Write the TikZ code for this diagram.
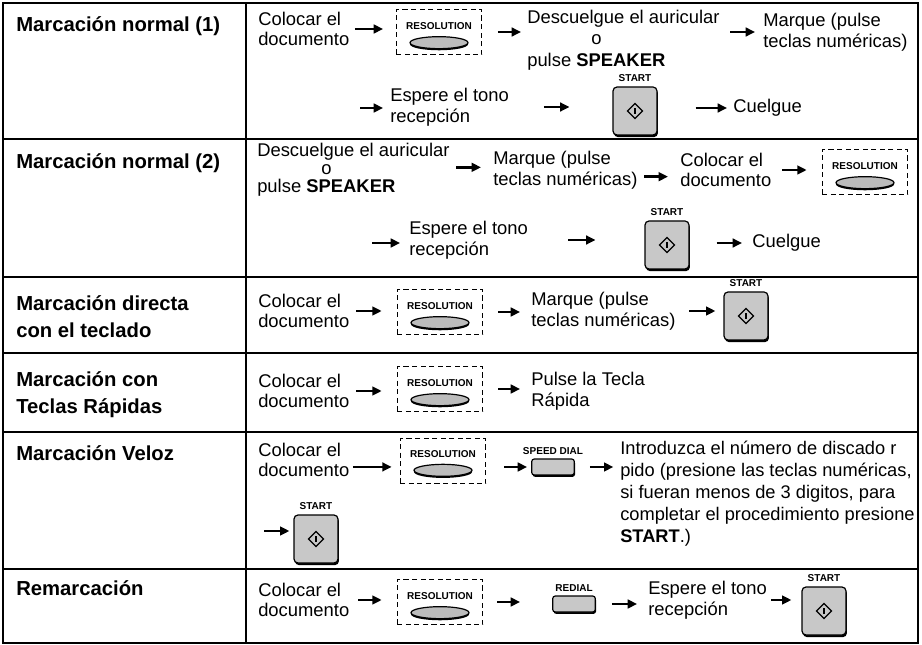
\documentclass[tikz,border=0pt]{standalone}
\usepackage{fontspec}
\setmainfont{Liberation Sans}
\usetikzlibrary{arrows.meta, positioning, shapes.geometric, shadows}
\definecolor{keygray}{RGB}{200,200,200}
\definecolor{capgray}{RGB}{188,188,188}
\tikzset{
  tableline/.style={line width=2.1pt},
  rowtitle/.style={anchor=west, align=left, inner sep=0pt, font=\fontsize{15.2}{20}\selectfont\bfseries},
  txt/.style={anchor=west, align=left, inner sep=0pt, font=\fontsize{13.8}{15.5}\selectfont},
  arrow/.style={-{Triangle[length=7pt, width=6.5pt]}, line width=2pt},
  resbox/.style={draw, line width=1.1pt, dash pattern=on 3.8pt off 2.6pt, minimum width=64pt, minimum height=34pt, inner sep=0pt},
  keylabel/.style={font=\fontsize{7.5}{8}\selectfont\bfseries, inner sep=0pt},
  rescap/.style={ellipse, draw, line width=0.9pt, fill=capgray, minimum width=43.5pt, minimum height=9pt, inner sep=0pt,
    drop shadow={shadow xshift=0pt, shadow yshift=-1.2pt, fill=black, opacity=1}},
  startkey/.style={draw, line width=0.9pt, fill=keygray, rounded corners=3pt, minimum width=33pt, minimum height=36pt, inner sep=0pt,
    drop shadow={shadow xshift=0.7pt, shadow yshift=-1.6pt, fill=black, opacity=1}},
  smallkey/.style={draw, line width=0.9pt, fill=keygray, rounded corners=2pt, minimum width=32pt, minimum height=12pt, inner sep=0pt,
    drop shadow={shadow xshift=0.6pt, shadow yshift=-1.4pt, fill=black, opacity=1}},
  startsym/.style={diamond, draw, line width=0.9pt, minimum width=11.5pt, minimum height=11.5pt, inner sep=0pt}
}
\begin{document}
\begin{tikzpicture}[x=0.75pt, y=-0.75pt]
    \useasboundingbox (0,0) rectangle (922,645);
    % table frame
    \draw[tableline] (3,3) rectangle (918,643);
    \draw[tableline] (246,3) -- (246,643);
    \draw[tableline] (3,139) -- (918,139) (3,277) -- (918,277) (3,353) -- (918,353)
      (3,432) -- (918,432) (3,569) -- (918,569);

    % row titles
    \node[rowtitle] (t1) at (16,26) {Marcación normal (1)};
    \node[rowtitle] (t2) at (16,163) {Marcación normal (2)};
    \node[rowtitle] (t3) at (16,317) {Marcación directa\\con el teclado};
    \node[rowtitle] (t4) at (16,395) {Marcación con\\Teclas Rápidas};
    \node[rowtitle] (t5) at (16,453) {Marcación Veloz};
    \node[rowtitle] (t6) at (16,588) {Remarcación};

    % row 1
    \node[txt] (a1) at (258,29) {Colocar el\\documento};
    \node[resbox] (r1) at (439,32) {};
    \node[keylabel] (r1l) at ([yshift=4.5pt]r1.center) {RESOLUTION};
    \node[rescap] (r1c) at ([yshift=-8pt]r1.center) {};
    \node[txt, font=\fontsize{13.8}{16}\selectfont] (d1) at (527,40) {Descuelgue el auricular\\\hspace*{48pt}o\\pulse \textbf{SPEAKER}};
    \node[txt] (m1) at (763,32) {Marque (pulse\\teclas numéricas)};
    \coordinate (c1) at (360,108);
    \node[txt] (e1) at (390,107) {Espere el tono\\recepción};
    \node[startkey] (k1) at (635,111) {};
    \node[keylabel, above=3.5pt of k1] (k1l) {START};
    \node[startsym] (k1s) at (k1.center) {\rule{0.8pt}{4.5pt}};
    \node[txt] (cu1) at (733,108) {Cuelgue};
    \draw[arrow, shorten <=4pt, shorten >=9.4pt] (a1.east) -- (a1.east -| r1.west);
    \draw[arrow, shorten <=11.6pt, shorten >=4.5pt] (r1.east) -- (r1.east -| d1.west);
    \draw[arrow, shorten <=8pt, shorten >=6pt] (m1.west -| d1.east) -- (m1.west);
    \draw[arrow, shorten >=5.2pt] (c1) -- (c1 -| e1.west);
    \draw[arrow, shorten <=26pt, shorten >=32.2pt] (e1.east) -- (e1.east -| k1.west);
    \draw[arrow, shorten <=28.5pt, shorten >=4.5pt] (cu1.west -| k1.east) -- (cu1.west);

    % row 2
    \node[txt, font=\fontsize{13.8}{13.5}\selectfont] (d2) at (257,170) {Descuelgue el auricular\\\hspace*{48pt}o\\pulse \textbf{SPEAKER}};
    \node[txt] (m2) at (493,170) {Marque (pulse\\teclas numéricas)};
    \node[txt] (c2) at (680,170) {Colocar el\\documento};
    \node[resbox] (r2) at (865,172) {};
    \node[keylabel] (r2l) at ([yshift=4.5pt]r2.center) {RESOLUTION};
    \node[rescap] (r2c) at ([yshift=-8pt]r2.center) {};
    \coordinate (c3) at (372,243);
    \node[txt] (e2) at (409,240) {Espere el tono\\recepción};
    \node[startkey] (k2) at (667,245) {};
    \node[keylabel, above=3.5pt of k2] (k2l) {START};
    \node[startsym] (k2s) at (k2.center) {\rule{0.8pt}{4.5pt}};
    \node[txt] (cu2) at (752,243) {Cuelgue};
    \draw[arrow, shorten <=5pt, shorten >=9pt] ([yshift=2pt]d2.east) -- ([yshift=2pt]d2.east -| m2.west);
    \draw[arrow, shorten <=5pt, shorten >=9pt] ([yshift=-5pt]m2.east) -- ([yshift=-5pt]m2.east -| c2.west);
    \draw[arrow, shorten <=8pt, shorten >=11.2pt] (c2.east) -- (c2.east -| r2.west);
    \draw[arrow, shorten >=6.7pt] (c3) -- (c3 -| e2.west);
    \draw[arrow, shorten <=30pt, shorten >=36.7pt] (e2.east) -- (e2.east -| k2.west);
    \draw[arrow, shorten <=20.2pt, shorten >=7.5pt] (cu2.west -| k2.east) -- (cu2.west);

    % row 3
    \node[txt] (a3) at (258,311) {Colocar el\\documento};
    \node[resbox] (r3) at (440,312) {};
    \node[keylabel] (r3l) at ([yshift=4.5pt]r3.center) {RESOLUTION};
    \node[rescap] (r3c) at ([yshift=-8pt]r3.center) {};
    \node[txt] (m3) at (531,311) {Marque (pulse\\teclas numéricas)};
    \node[startkey] (k3) at (746,316) {};
    \node[keylabel, above=3.5pt of k3] (k3l) {START};
    \node[startsym] (k3s) at (k3.center) {\rule{0.8pt}{4.5pt}};
    \draw[arrow, shorten <=5pt, shorten >=11.2pt] (a3.east) -- (a3.east -| r3.west);
    \draw[arrow, shorten <=11.2pt, shorten >=8.2pt] (r3.east) -- (r3.east -| m3.west);
    \draw[arrow, shorten <=10pt, shorten >=6pt] (m3.east) -- (m3.east -| k3.west);

    % row 4
    \node[txt] (a4) at (258,391) {Colocar el\\documento};
    \node[resbox] (r4) at (440,389) {};
    \node[keylabel] (r4l) at ([yshift=4.5pt]r4.center) {RESOLUTION};
    \node[rescap] (r4c) at ([yshift=-8pt]r4.center) {};
    \node[txt] (m4) at (531,391) {Pulse la Tecla\\Rápida};
    \draw[arrow, shorten <=5pt, shorten >=11.2pt] (a4.east) -- (a4.east -| r4.west);
    \draw[arrow, shorten <=11.2pt, shorten >=8.2pt] (r4.east) -- (r4.east -| m4.west);

    % row 5
    \node[txt] (a5) at (258,460) {Colocar el\\documento};
    \node[resbox] (r5) at (443,461) {};
    \node[keylabel] (r5l) at ([yshift=5.5pt]r5.center) {RESOLUTION};
    \node[rescap] (r5c) at ([yshift=-7pt]r5.center) {};
    \node[smallkey] (s5) at (553,467) {};
    \node[keylabel, above=2.6pt of s5] (s5l) {SPEED DIAL};
    \node[txt, font=\fontsize{13.7}{16.5}\selectfont] (i5) at (620,494) {Introduzca el número de discado r\\pido (presione las teclas numéricas,\\si fueran menos de 3 digitos, para\\completar el procedimiento presione\\\textbf{START}.)};
    \coordinate (c5) at (264,531);
    \node[startkey] (k5) at (316,539) {};
    \node[keylabel, above=3.5pt of k5] (k5l) {START};
    \node[startsym] (k5s) at (k5.center) {\rule{0.8pt}{4.5pt}};
    \draw[arrow, shorten <=2.5pt, shorten >=6pt] ([yshift=-5.2pt]a5.east) -- ([yshift=-5.2pt]a5.east -| r5.west);
    \draw[arrow, shorten <=13.5pt, shorten >=3pt] (s5.west -| r5.east) -- (s5.west);
    \draw[arrow, shorten <=11.2pt, shorten >=5pt] (s5.east) -- (s5.east -| i5.west);
    \draw[arrow, shorten >=3pt] (c5) -- (c5 -| k5.west);

    % row 6
    \node[txt] (a6) at (258,600) {Colocar el\\documento};
    \node[resbox] (r6) at (440,602) {};
    \node[keylabel] (r6l) at ([yshift=4.5pt]r6.center) {RESOLUTION};
    \node[rescap] (r6c) at ([yshift=-8pt]r6.center) {};
    \node[smallkey] (s6) at (574,604) {};
    \node[keylabel, above=2.6pt of s6] (s6l) {REDIAL};
    \node[txt] (e6) at (648,600) {Espere el tono\\recepción};
    \node[startkey] (k6) at (824,611) {};
    \node[keylabel, above=3.5pt of k6] (k6l) {START};
    \node[startsym] (k6s) at (k6.center) {\rule{0.8pt}{4.5pt}};
    \draw[arrow, shorten <=6.5pt, shorten >=11.2pt] (a6.east) -- (a6.east -| r6.west);
    \draw[arrow, shorten <=10.5pt, shorten >=24pt] (r6.east) -- (r6.east -| s6.west);
    \draw[arrow, shorten <=12pt, shorten >=8.2pt] (s6.east) -- (s6.east -| e6.west);
    \draw[arrow, shorten <=3pt, shorten >=7.5pt] (e6.east) -- (e6.east -| k6.west);
\end{tikzpicture}
\end{document}
